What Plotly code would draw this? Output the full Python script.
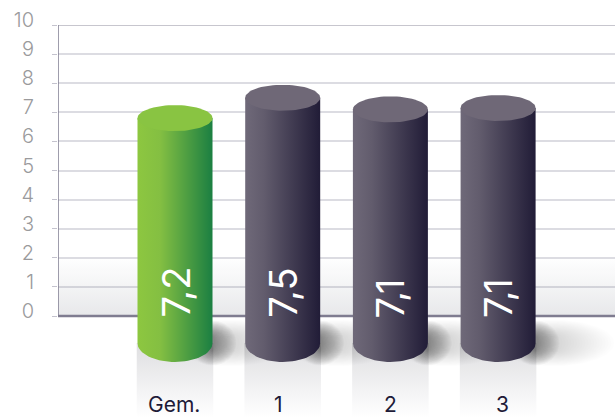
import numpy as np
import plotly.graph_objects as go

# --- data ---
categories = ["Gem.", "1", "2", "3"]
bar_heights = [6.8, 7.5, 7.1, 7.15]
value_labels = ["7,2", "7,5", "7,1", "7,1"]
y_ticks = list(range(0, 11))

# --- styles ---
W, H = 615, 418
L, T = 58, 25
PX_UNIT = 29.1            # pixels for one y unit
PX_CAT = 107.7            # pixels between categories
X0_PX = 175               # first category centre
BAR_HALF = 37.5 / PX_CAT  # cylinder half width in x units
TOP_SEMI = 13 / PX_UNIT
BASE_SEMI = 19 / PX_UNIT
BASE_Y = -27 / PX_UNIT
FONT = "Inter"
GREEN = [[0, "#8dc740"], [0.3, "#84bf42"], [1, "#1b7f42"]]
DARK = [[0, "#6f6979"], [0.25, "#625c6d"], [1, "#211c37"]]
TOP_COL = ["#89c442", "#6f6877", "#6f6877", "#6f6877"]
LABEL_SHIFT = [-1, -4, 0, 4]

x_range = [(L - X0_PX) / PX_CAT, (W - X0_PX) / PX_CAT]
y_range = [(316 - H) / PX_UNIT, 10]

t = np.linspace(0, 2 * np.pi, 73)
fig = go.Figure()


def poly(x, y, **kw):
    fig.add_trace(go.Scatter(x=x, y=y, mode="lines", line=dict(width=0), fill="toself",
                             hoverinfo="skip", showlegend=False, cliponaxis=True, **kw))


# reflection strips below the cylinders
for i in range(len(categories)):
    poly([i - BAR_HALF * 1.02, i + BAR_HALF * 1.02, i + BAR_HALF * 1.02, i - BAR_HALF * 1.02],
         [BASE_Y, BASE_Y, y_range[0], y_range[0]],
         fillgradient=dict(type="vertical",
                           colorscale=[[0, "#ffffff"], [0.25, "#f7f7f8"], [1, "#dedee0"]]))

# floor gradient behind the lower part of the axes
poly([x_range[0], x_range[1], x_range[1], x_range[0]], [0, 0, 2, 2],
     fillgradient=dict(type="vertical",
                       colorscale=[[0, "rgba(95,100,115,0.15)"], [0.75, "rgba(95,100,115,0.035)"],
                                   [0.8, "rgba(95,100,115,0.035)"], [1, "rgba(95,100,115,0)"]]))

# axis lines
fig.add_trace(go.Scatter(x=[x_range[0], x_range[0]], y=[0, 10], mode="lines",
                         line=dict(color="#7f7c90", width=1.5), hoverinfo="skip",
                         showlegend=False, cliponaxis=False))
fig.add_trace(go.Scatter(x=x_range, y=[0, 0], mode="lines",
                         line=dict(color="#7f7c90", width=2.5), hoverinfo="skip",
                         showlegend=False, cliponaxis=False))
fig.add_trace(go.Scatter(x=x_range, y=[10, 10], mode="lines",
                         line=dict(color="#8f8d9e", width=1), hoverinfo="skip",
                         showlegend=False, cliponaxis=False))

# soft shadows to the right of the cylinders
for i in range(len(categories)):
    for s in np.linspace(1, 0.1, 20):
        poly(i + 0.52 + 0.56 * s * np.cos(t), BASE_Y + 0.8 * (0.3 + 0.7 * s) * np.sin(t),
             fillcolor="rgba(30,30,30,0.009)")
    for s in np.linspace(1, 0.1, 24):
        poly(i + BAR_HALF + 0.22 * s * np.cos(t), BASE_Y + 0.78 * (0.25 + 0.75 * s) * np.sin(t),
             fillcolor="rgba(30,30,30,0.024)")

# cylinders
for i, h in enumerate(bar_heights):
    a = np.linspace(np.pi, 2 * np.pi, 37)
    xb = i + BAR_HALF * np.cos(a)
    yb = BASE_Y + BASE_SEMI * np.sin(a)
    xs = np.concatenate([xb, [i + BAR_HALF, i - BAR_HALF, i - BAR_HALF]])
    ys = np.concatenate([yb, [h, h, BASE_Y]])
    poly(xs, ys, fillgradient=dict(type="horizontal", colorscale=GREEN if i == 0 else DARK))
    poly(i + BAR_HALF * np.cos(t), h + TOP_SEMI * np.sin(t), fillcolor=TOP_COL[i])

annotations = []
for i, lab in enumerate(value_labels):
    annotations.append(dict(x=i, y=0, text=lab, textangle=-90, showarrow=False,
                            xanchor="center", yanchor="bottom", yshift=-4,
                            font=dict(family=FONT, size=38, color="#ffffff", weight=400)))
for i, cat in enumerate(categories):
    annotations.append(dict(x=i, y=y_range[0], text=cat, showarrow=False, xanchor="center",
                            yanchor="bottom", xshift=LABEL_SHIFT[i], yshift=-1,
                            font=dict(family=FONT, size=21, color="#1e1b38")))

fig.update_layout(
    width=W, height=H, margin=dict(l=L, r=0, t=T, b=0),
    paper_bgcolor="#ffffff", plot_bgcolor="#ffffff",
    showlegend=False, annotations=annotations,
    xaxis=dict(range=x_range, showgrid=False, zeroline=False, showticklabels=False, visible=False),
    yaxis=dict(range=y_range, tickvals=y_ticks, showgrid=True, gridcolor="#dcdce2", gridwidth=1.5,
               zeroline=False, showline=False, ticks="outside", ticklen=5, tickcolor="#c4c3ce",
               tickwidth=1, ticklabelstandoff=14, ticklabelshift=-5,
               tickfont=dict(family=FONT, size=20, color="#9a9a9c", weight=300)),
)
fig.write_html("out.html", config=dict(displayModeBar=False),
               post_script="document.body.style.margin='0';document.body.style.overflow='hidden';")
